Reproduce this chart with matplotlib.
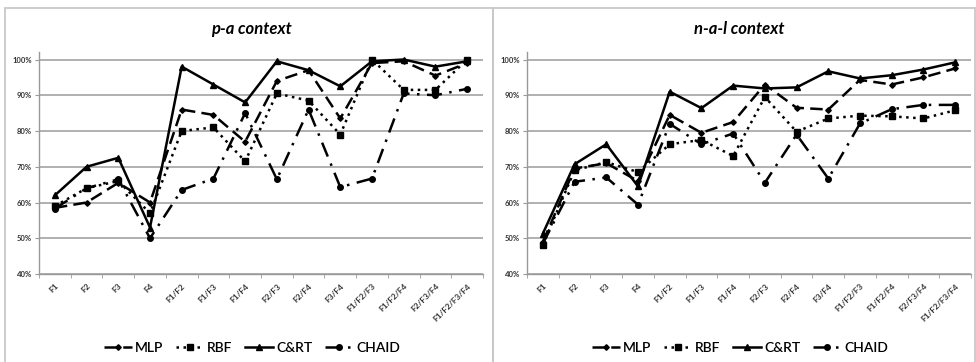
import matplotlib
matplotlib.use('Agg')
import matplotlib.pyplot as plt
from matplotlib.patches import Rectangle
import numpy as np

plt.rcParams['font.family'] = ['Lato', 'DejaVu Sans']

categories = ['F1', 'F2', 'F3', 'F4', 'F1/F2', 'F1/F3', 'F1/F4', 'F2/F3', 'F2/F4',
              'F3/F4', 'F1/F2/F3', 'F1/F2/F4', 'F2/F3/F4', 'F1/F2/F3/F4']

# p-a context (percent)
pa_mlp   = [58.5, 60.0, 65.5, 60.0, 86.0, 84.5, 77.0, 94.0, 97.0, 83.5, 99.0, 99.5, 95.5, 99.0]
pa_rbf   = [59.0, 64.0, 66.0, 57.0, 80.0, 81.0, 71.5, 90.5, 88.5, 79.0, 100.0, 91.5, 91.5, 100.0]
pa_cart  = [62.0, 70.0, 72.5, 53.0, 98.0, 93.0, 88.0, 99.5, 97.0, 92.5, 99.5, 100.0, 98.0, 99.5]
pa_chaid = [58.3, 64.0, 66.5, 50.0, 63.5, 66.7, 85.0, 66.5, 86.0, 64.3, 66.7, 90.5, 90.0, 91.8]

# n-a-l context (percent)
nal_mlp   = [49.0, 69.5, 71.0, 66.0, 84.5, 79.5, 82.5, 93.0, 86.5, 86.0, 94.3, 93.0, 95.0, 97.5]
nal_rbf   = [48.2, 69.0, 71.3, 68.5, 76.3, 77.5, 73.0, 89.5, 79.8, 83.5, 84.3, 84.1, 83.5, 85.8]
nal_cart  = [51.3, 70.7, 76.3, 64.5, 91.0, 86.4, 92.7, 91.9, 92.2, 96.7, 94.7, 95.6, 97.2, 99.2]
nal_chaid = [48.5, 65.8, 67.0, 59.4, 82.0, 76.3, 79.3, 65.5, 79.0, 66.7, 82.1, 86.1, 87.3, 87.3]

series_names = ['MLP', 'RBF', 'C&RT', 'CHAID']
styles = [
    dict(linestyle=(0, (5, 2.5)), marker='D', markersize=2.8),
    dict(linestyle=(0, (1, 1.8)), marker='s', markersize=4),
    dict(linestyle='-', marker='^', markersize=4),
    dict(linestyle=(0, (6, 3, 1, 3)), marker='o', markersize=4),
]

W, H = 976, 362
fig = plt.figure(figsize=(W / 100, H / 100), dpi=100)

# panel frames like the Excel chart areas
for x0, x1 in [(5, 493), (493, 975)]:
    fig.add_artist(Rectangle((x0 / W, -0.05), (x1 - x0) / W, 1.05 - 8 / H,
                             transform=fig.transFigure, fill=False,
                             edgecolor='#c8c8c8', lw=1.3))


def draw_panel(left, title, data):
    ax = fig.add_axes([left / W, 1 - 274 / H, 444 / W, (274 - 52.35) / H])
    x = np.arange(len(categories))
    handles = []
    for name, vals, st in zip(series_names, data, styles):
        h, = ax.plot(x, np.array(vals) / 100, color='black', lw=1.8,
                     markerfacecolor='black', markeredgecolor='black',
                     label=name, **st)
        handles.append(h)
    ax.set_xlim(-0.5, len(categories) - 0.5)
    ax.set_ylim(0.4, 1.02)
    ax.set_yticks(np.arange(0.4, 1.01, 0.1))
    ax.set_yticklabels(['%d%%' % round(v * 100) for v in np.arange(0.4, 1.01, 0.1)],
                       fontsize=5.5, fontweight='bold', color='#333333')
    ax.yaxis.grid(True, color='#aaaaaa', lw=1.3)
    ax.set_axisbelow(True)
    ax.set_xticks(x)
    ax.set_xticklabels(categories, rotation=45, ha='right', rotation_mode='anchor',
                       fontsize=6, fontweight='bold', color='#333333')
    ax.set_xticks(np.arange(-0.5, len(categories)), minor=True)
    ax.tick_params(axis='x', which='major', length=0, pad=6)
    ax.tick_params(axis='x', which='minor', length=3, color='#999999')
    ax.tick_params(axis='y', length=3, color='#999999', pad=2)
    for s in ['top', 'right']:
        ax.spines[s].set_visible(False)
    for s in ['left', 'bottom']:
        ax.spines[s].set_color('#999999')
        ax.spines[s].set_linewidth(1.0)
    fig.text((left + 212) / W, 1 - 29 / H, title, ha='center', va='center',
             fontsize=12, fontweight='bold', fontstyle='italic')
    fig.legend(handles=handles, loc='center', ncol=4,
               bbox_to_anchor=((left + 213) / W, 1 - 348 / H),
               frameon=False, handlelength=2.0, handletextpad=0.25,
               columnspacing=0.9, prop=dict(size=10, weight='semibold'))
    return ax


draw_panel(39, 'p-a context', [pa_mlp, pa_rbf, pa_cart, pa_chaid])
draw_panel(527, 'n-a-l context', [nal_mlp, nal_rbf, nal_cart, nal_chaid])

fig.savefig('out.png', dpi=100)
